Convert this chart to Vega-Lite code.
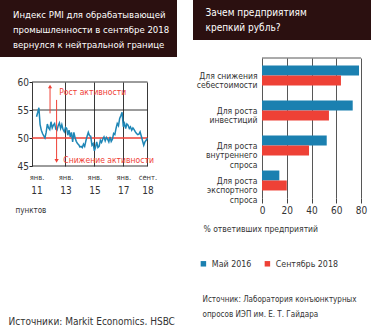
{
  "$schema": "https://vega.github.io/schema/vega-lite/v6.json",
  "padding": 0,
  "autosize": {"type": "pad"},
  "background": "white",
  "config": {
    "font": "DejaVu Sans Condensed, Liberation Sans Narrow, sans-serif",
    "view": {"stroke": null},
    "axis": {"labelColor": "#333", "titleColor": "#333", "labelFontWeight": "normal", "titleFontWeight": "normal", "labelOverlap": false},
    "axisY": {"labelOverlap": false},
    "axisQuantitative": {"labelOverlap": false}
  },
  "spacing": 16,
  "hconcat": [
    {
      "spacing": 20,
      "vconcat": [
        {
          "width": 177, "height": 57,
          "view": {"fill": "#2b1010", "stroke": null},
          "data": {"values": [
            {"line": 1, "text": "Индекс PMI для обрабатывающей"},
            {"line": 2, "text": "промышленности в сентябре 2018"},
            {"line": 3, "text": "вернулся к нейтральной границе"}
          ]},
          "mark": {"type": "text", "align": "left", "baseline": "middle", "fontSize": 9.5, "color": "white"},
          "encoding": {
            "x": {"value": 13},
            "y": {"field": "line", "type": "quantitative", "scale": {"domain": [0, 3.8], "reverse": true, "zero": false, "nice": false}, "axis": null},
            "text": {"field": "text"}
          }
        },
        {
          "width": 147.5, "height": 84,
          "resolve": {"axis": {"x": "independent"}},
          "layer": [
            {
              "data": {"values": [{"level": 45}, {"level": 55}, {"level": 60}]},
              "mark": {"type": "rule", "color": "#222", "strokeWidth": 0.9},
              "encoding": {
                "x": {"datum": {"year": 2010, "month": 9, "date": 10, "utc": true}, "type": "temporal", "axis": null},
                "x2": {"datum": {"year": 2018, "month": 9, "date": 4, "utc": true}},
                "y": {"field": "level", "type": "quantitative",
                  "scale": {"domain": [45, 60], "nice": false, "zero": false},
                  "axis": {"values": [45, 50, 55, 60], "offset": -32, "grid": false, "domain": true, "domainColor": "#222", "domainWidth": 0.9, "tickColor": "#222", "tickSize": 3, "labelFontSize": 10, "labelPadding": 0.5, "labelOverlap": false, "title": null}}
              }
            },
            {
              "data": {"values": [{"level": 50}]},
              "mark": {"type": "rule", "color": "#ef4136", "strokeWidth": 1.6},
              "encoding": {
                "x": {"datum": {"year": 2010, "month": 9, "date": 10, "utc": true}, "type": "temporal", "axis": null},
                "x2": {"datum": {"year": 2018, "month": 9, "date": 4, "utc": true}},
                "y": {"field": "level", "type": "quantitative", "axis": {"values": [45, 50, 55, 60], "offset": -32, "grid": false, "domain": true, "domainColor": "#222", "domainWidth": 0.9, "tickColor": "#222", "tickSize": 3, "labelFontSize": 10, "labelPadding": 0.5, "labelOverlap": false, "title": null}}
              }
            },
            {
              "data": {"values": [
                {"date": "2011-01-01", "pmi": 53.8}, {"date": "2011-02-01", "pmi": 54.6}, {"date": "2011-03-01", "pmi": 55.4}, {"date": "2011-04-01", "pmi": 52.4},
                {"date": "2011-05-01", "pmi": 51.4}, {"date": "2011-06-01", "pmi": 50.8}, {"date": "2011-07-01", "pmi": 50.4}, {"date": "2011-08-01", "pmi": 50.0},
                {"date": "2011-09-01", "pmi": 51.0}, {"date": "2011-10-01", "pmi": 52.5}, {"date": "2011-11-01", "pmi": 51.8}, {"date": "2011-12-01", "pmi": 51.5},
                {"date": "2012-01-01", "pmi": 52.9}, {"date": "2012-02-01", "pmi": 51.8}, {"date": "2012-03-01", "pmi": 52.3}, {"date": "2012-04-01", "pmi": 52.6},
                {"date": "2012-05-01", "pmi": 51.6}, {"date": "2012-06-01", "pmi": 51.4}, {"date": "2012-07-01", "pmi": 52.2}, {"date": "2012-08-01", "pmi": 52.7},
                {"date": "2012-09-01", "pmi": 51.7}, {"date": "2012-10-01", "pmi": 52.4}, {"date": "2012-11-01", "pmi": 51.5}, {"date": "2012-12-01", "pmi": 51.1},
                {"date": "2013-01-01", "pmi": 51.9}, {"date": "2013-02-01", "pmi": 51.7}, {"date": "2013-03-01", "pmi": 50.5}, {"date": "2013-04-01", "pmi": 51.4},
                {"date": "2013-05-01", "pmi": 50.2}, {"date": "2013-06-01", "pmi": 51.0}, {"date": "2013-07-01", "pmi": 49.3}, {"date": "2013-08-01", "pmi": 51.0},
                {"date": "2013-09-01", "pmi": 50.0}, {"date": "2013-10-01", "pmi": 49.4}, {"date": "2013-11-01", "pmi": 49.0}, {"date": "2013-12-01", "pmi": 48.8},
                {"date": "2014-01-01", "pmi": 48.4}, {"date": "2014-02-01", "pmi": 48.5}, {"date": "2014-03-01", "pmi": 48.3}, {"date": "2014-04-01", "pmi": 48.9},
                {"date": "2014-05-01", "pmi": 48.5}, {"date": "2014-06-01", "pmi": 49.5}, {"date": "2014-07-01", "pmi": 50.3}, {"date": "2014-08-01", "pmi": 51.0},
                {"date": "2014-09-01", "pmi": 50.4}, {"date": "2014-10-01", "pmi": 50.3}, {"date": "2014-11-01", "pmi": 48.7}, {"date": "2014-12-01", "pmi": 49.0},
                {"date": "2015-01-01", "pmi": 47.7}, {"date": "2015-02-01", "pmi": 48.4}, {"date": "2015-03-01", "pmi": 49.3}, {"date": "2015-04-01", "pmi": 48.3},
                {"date": "2015-05-01", "pmi": 48.5}, {"date": "2015-06-01", "pmi": 49.6}, {"date": "2015-07-01", "pmi": 49.2}, {"date": "2015-08-01", "pmi": 49.8},
                {"date": "2015-09-01", "pmi": 50.2}, {"date": "2015-10-01", "pmi": 49.5}, {"date": "2015-11-01", "pmi": 50.1}, {"date": "2015-12-01", "pmi": 49.8},
                {"date": "2016-01-01", "pmi": 49.3}, {"date": "2016-02-01", "pmi": 50.2}, {"date": "2016-03-01", "pmi": 49.4}, {"date": "2016-04-01", "pmi": 49.8},
                {"date": "2016-05-01", "pmi": 50.8}, {"date": "2016-06-01", "pmi": 50.6}, {"date": "2016-07-01", "pmi": 51.7}, {"date": "2016-08-01", "pmi": 52.6},
                {"date": "2016-09-01", "pmi": 52.2}, {"date": "2016-10-01", "pmi": 53.5}, {"date": "2016-11-01", "pmi": 54.0}, {"date": "2016-12-01", "pmi": 54.6},
                {"date": "2017-01-01", "pmi": 52.0}, {"date": "2017-02-01", "pmi": 52.6}, {"date": "2017-03-01", "pmi": 51.7}, {"date": "2017-04-01", "pmi": 52.5},
                {"date": "2017-05-01", "pmi": 52.3}, {"date": "2017-06-01", "pmi": 51.7}, {"date": "2017-07-01", "pmi": 52.0}, {"date": "2017-08-01", "pmi": 51.4},
                {"date": "2017-09-01", "pmi": 51.8}, {"date": "2017-10-01", "pmi": 51.5}, {"date": "2017-11-01", "pmi": 51.1}, {"date": "2017-12-01", "pmi": 50.8},
                {"date": "2018-01-01", "pmi": 50.6}, {"date": "2018-02-01", "pmi": 50.7}, {"date": "2018-03-01", "pmi": 51.1}, {"date": "2018-04-01", "pmi": 50.3},
                {"date": "2018-05-01", "pmi": 49.5}, {"date": "2018-06-01", "pmi": 48.7}, {"date": "2018-07-01", "pmi": 49.3}, {"date": "2018-08-01", "pmi": 49.6},
                {"date": "2018-09-01", "pmi": 50.0}
              ]},
              "mark": {"type": "line", "color": "#1d86b6", "strokeWidth": 1.5},
              "encoding": {
                "x": {"field": "date", "type": "temporal",
                  "scale": {"type": "utc", "domain": [{"year": 2008, "month": 6, "date": 22, "utc": true}, {"year": 2018, "month": 9, "date": 4, "utc": true}]},
                  "axis": {"orient": "bottom", "values": [{"year": 2011, "month": 1, "date": 1, "utc": true}, {"year": 2013, "month": 1, "date": 1, "utc": true}, {"year": 2015, "month": 1, "date": 1, "utc": true}, {"year": 2017, "month": 1, "date": 1, "utc": true}, {"year": 2018, "month": 9, "date": 1, "utc": true}],
                    "labelExpr": "utcmonth(datum.value) == 8 ? 'сент.' : 'янв.'", "labelFontSize": 7.5, "labelPadding": 7.5, "labelFlush": false,
                    "ticks": false, "domain": false, "grid": true, "gridColor": "#222", "gridWidth": 0.9,
                    "gridOpacity": {"condition": {"test": "utcyear(datum.value) == 2011", "value": 0}, "value": 1},
                    "title": "Источники: Markit Economics, HSBC", "titleX": 8, "titleY": 155, "titleAlign": "left", "titleBaseline": "middle", "titleFontSize": 10}},
                "y": {"field": "pmi", "type": "quantitative", "axis": {"values": [45, 50, 55, 60], "offset": -32, "grid": false, "domain": true, "domainColor": "#222", "domainWidth": 0.9, "tickColor": "#222", "tickSize": 3, "labelFontSize": 10, "labelPadding": 0.5, "labelOverlap": false, "title": null}}
              }
            },
            {
              "data": {"values": [
                {"date": "2011-12-08", "from": 54.4, "to": 59.2},
                {"date": "2012-05-22", "from": 56.8, "to": 45.9}
              ]},
              "mark": {"type": "rule", "color": "#ef4136", "strokeWidth": 1},
              "encoding": {
                "x": {"field": "date", "type": "temporal",
                  "axis": {"orient": "bottom", "values": [{"year": 2011, "month": 1, "date": 1, "utc": true}, {"year": 2013, "month": 1, "date": 1, "utc": true}, {"year": 2015, "month": 1, "date": 1, "utc": true}, {"year": 2017, "month": 1, "date": 1, "utc": true}, {"year": 2018, "month": 9, "date": 1, "utc": true}],
                    "labelExpr": "utcFormat(datum.value, '%y')", "labelFontSize": 10, "labelPadding": 19, "labelFlush": false,
                    "ticks": false, "domain": false, "grid": false,
                    "title": "пунктов", "titleX": 15, "titleY": 44, "titleAlign": "left", "titleBaseline": "middle", "titleFontSize": 8}},
                "y": {"field": "from", "type": "quantitative", "axis": {"values": [45, 50, 55, 60], "offset": -32, "grid": false, "domain": true, "domainColor": "#222", "domainWidth": 0.9, "tickColor": "#222", "tickSize": 3, "labelFontSize": 10, "labelPadding": 0.5, "labelOverlap": false, "title": null}},
                "y2": {"field": "to"}
              }
            },
            {
              "data": {"values": [
                {"date": "2011-12-08", "to": 59.2, "dir": "up"},
                {"date": "2012-05-22", "to": 45.9, "dir": "down"}
              ]},
              "mark": {"type": "point", "filled": true, "color": "#ef4136", "size": 18, "opacity": 1},
              "encoding": {
                "x": {"field": "date", "type": "temporal", "axis": null},
                "y": {"field": "to", "type": "quantitative", "axis": {"values": [45, 50, 55, 60], "offset": -32, "grid": false, "domain": true, "domainColor": "#222", "domainWidth": 0.9, "tickColor": "#222", "tickSize": 3, "labelFontSize": 10, "labelPadding": 0.5, "labelOverlap": false, "title": null}},
                "shape": {"field": "dir", "type": "nominal", "scale": {"domain": ["up", "down"], "range": ["triangle-up", "triangle-down"]}, "legend": null}
              }
            },
            {
              "data": {"values": [
                {"date": "2012-07-28", "value": 58.3, "label": "Рост активности"},
                {"date": "2012-11-07", "value": 46.05, "label": "Снижение активности"}
              ]},
              "mark": {"type": "text", "align": "left", "baseline": "middle", "fontSize": 8.5, "color": "#ef4136"},
              "encoding": {
                "x": {"field": "date", "type": "temporal", "axis": null},
                "y": {"field": "value", "type": "quantitative", "axis": {"values": [45, 50, 55, 60], "offset": -32, "grid": false, "domain": true, "domainColor": "#222", "domainWidth": 0.9, "tickColor": "#222", "tickSize": 3, "labelFontSize": 10, "labelPadding": 0.5, "labelOverlap": false, "title": null}},
                "text": {"field": "label"}
              }
            }
          ]
        }
      ]
    },
    {
      "spacing": 17,
      "vconcat": [
        {
          "width": 178, "height": 40,
          "view": {"fill": "#2b1010", "stroke": null},
          "data": {"values": [
            {"line": 1, "text": "Зачем предприятиям"},
            {"line": 2, "text": "крепкий рубль?"}
          ]},
          "mark": {"type": "text", "align": "left", "baseline": "middle", "fontSize": 10, "color": "white"},
          "encoding": {
            "x": {"value": 12.5},
            "y": {"field": "line", "type": "quantitative", "scale": {"domain": [0.11, 2.777], "reverse": true, "zero": false, "nice": false}, "axis": null},
            "text": {"field": "text"}
          }
        },
        {
          "width": 168, "height": 140,
          "resolve": {"scale": {"y": "independent"}, "axis": {"x": "independent"}},
          "layer": [
            {
              "data": {"values": [
                {"reason": "Для снижения себестоимости", "period": "Май 2016", "value": 78.4},
                {"reason": "Для снижения себестоимости", "period": "Сентябрь 2018", "value": 63.8},
                {"reason": "Для роста инвестиций", "period": "Май 2016", "value": 73.3},
                {"reason": "Для роста инвестиций", "period": "Сентябрь 2018", "value": 54.1},
                {"reason": "Для роста внутреннего спроса", "period": "Май 2016", "value": 52.3},
                {"reason": "Для роста внутреннего спроса", "period": "Сентябрь 2018", "value": 38.0},
                {"reason": "Для роста экспортного спроса", "period": "Май 2016", "value": 14.0},
                {"reason": "Для роста экспортного спроса", "period": "Сентябрь 2018", "value": 20.0}
              ]},
              "mark": {"type": "bar"},
              "encoding": {
                "y": {"field": "reason", "type": "nominal",
                  "sort": ["Для снижения себестоимости", "Для роста инвестиций", "Для роста внутреннего спроса", "Для роста экспортного спроса"],
                  "scale": {"paddingInner": 0.43, "paddingOuter": 0.215},
                  "axis": {"title": null, "offset": -69, "ticks": false, "domain": false, "grid": false, "labelPadding": 5, "labelFontSize": 8.5, "labelLineHeight": 9.5,
                    "labelExpr": "datum.value == 'Для снижения себестоимости' ? ['Для снижения', 'себестоимости'] : datum.value == 'Для роста инвестиций' ? ['Для роста', 'инвестиций'] : datum.value == 'Для роста внутреннего спроса' ? ['Для роста', 'внутреннего', 'спроса'] : ['Для роста', 'экспортного', 'спроса']"}},
                "yOffset": {"field": "period", "type": "nominal", "sort": ["Май 2016", "Сентябрь 2018"]},
                "x": {"field": "value", "type": "quantitative",
                  "scale": {"domain": [-55.76, 80], "nice": false, "zero": false},
                  "axis": {"values": [0, 20, 40, 60, 80], "grid": true, "gridColor": "#444", "gridWidth": 0.9, "tickColor": "#444", "tickSize": 5, "domain": false, "labelFontSize": 10, "labelPadding": 2, "labelFlush": false,
                    "title": "% ответивших предприятий", "titleX": 10, "titleY": 30, "titleAlign": "left", "titleBaseline": "middle", "titleFontSize": 8.5}},
                "color": {"field": "period", "type": "nominal",
                  "scale": {"domain": ["Май 2016", "Сентябрь 2018"], "range": ["#1b80b0", "#ee4136"]},
                  "legend": {"orient": "none", "legendX": 199, "legendY": 259, "direction": "horizontal", "title": null, "symbolType": "square", "symbolSize": 30, "symbolStrokeWidth": 0, "labelFontSize": 8.8, "labelColor": "#333", "columnPadding": 11, "labelOffset": 4}}
              }
            },
            {
              "data": {"values": [{"edge": 1}]},
              "mark": {"type": "rule", "color": "#444", "strokeWidth": 0.9},
              "encoding": {
                "x": {"datum": 0, "type": "quantitative",
                  "axis": {"orient": "bottom", "labels": false, "ticks": false, "domain": false, "grid": false,
                    "title": ["Источник: Лаборатория конъюнктурных", "опросов ИЭП им. Е. Т. Гайдара"], "titleX": 9, "titleY": 97, "titleAlign": "left", "titleBaseline": "top", "titleLineHeight": 15, "titleFontSize": 8}},
                "x2": {"datum": 80},
                "y": {"field": "edge", "type": "quantitative", "scale": {"domain": [0, 1]}, "axis": null}
              }
            }
          ]
        }
      ]
    }
  ]
}
